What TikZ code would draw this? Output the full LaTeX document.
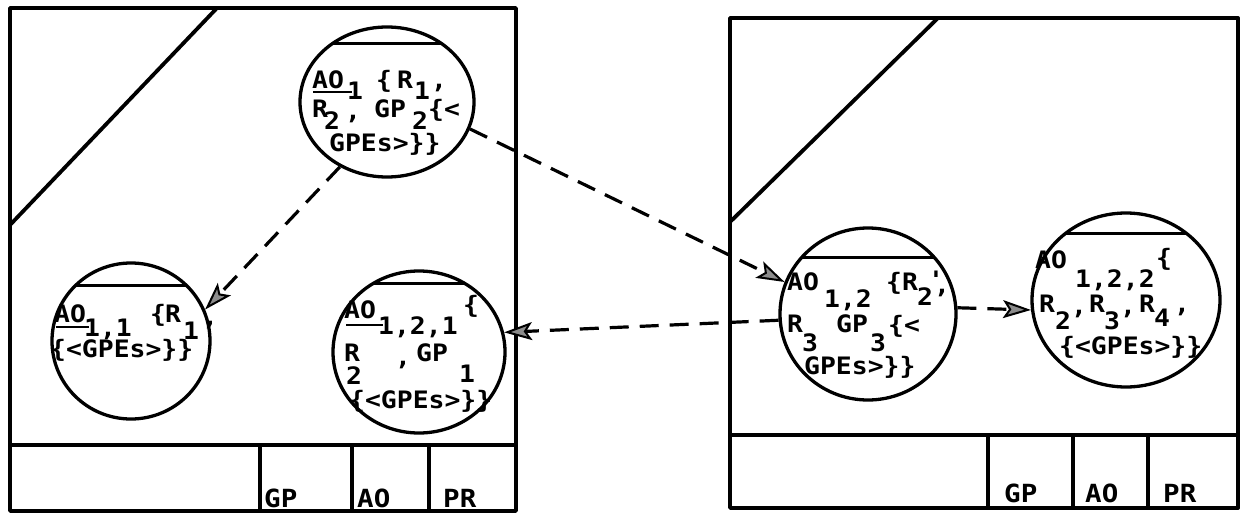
\documentclass[tikz,border=0pt]{standalone}
\usepackage{fontspec}
\newfontfamily\monof[FakeStretch=1.1]{DejaVu Sans Mono}
\usetikzlibrary{shapes.geometric,arrows.meta}
\tikzset{
 frame/.style={line width=3.8pt, line cap=round, line join=round},
 bub/.style={draw, ellipse, line width=3.3pt, inner sep=0pt},
 chordline/.style={line width=3pt},
 tx/.style={font=\monof\bfseries\fontsize{24pt}{26pt}\selectfont, inner sep=0pt, anchor=base west},
 lab/.style={font=\monof\bfseries\fontsize{25pt}{27pt}\selectfont, inner sep=0pt, anchor=base west},
 link/.style={line width=3.2pt, dash pattern=on 19pt off 11pt,
   -{Stealth[length=28pt,width=18pt,inset=6pt,fill=black!45,line width=2pt]}},
}
\newcommand\mybubble[6]{%
  \node[bub, minimum width={2*#4pt}, minimum height={2*#5pt}] (#1) at (#2,#3) {};
  \begin{scope}\clip (#2,#3) ellipse [x radius=#4, y radius=#5];
  \draw[chordline] ({#2-#4},#6) -- ({#2+#4},#6);\end{scope}}
\newcommand\frag[4]{\node[tx] (#1) at (#2,#3) {#4};}
\begin{document}
\begin{tikzpicture}[x=1pt,y=-1pt]
\useasboundingbox (0,0) rectangle (1250,514);
% left box
\draw[frame] (10,8) rectangle (516,511);
\draw[frame] (10,445) -- (516,445);
\draw[frame] (260,445) -- (260,511);
\draw[frame] (352,445) -- (352,511);
\draw[frame] (429,445) -- (429,511);
\draw[frame] (217,8) -- (10,225);
\node[lab] (lgp) at (264,507) {GP};
\node[lab] (lao) at (357,507) {AO};
\node[lab] (lpr) at (443,507) {PR};
% right box
\draw[frame] (730,18) rectangle (1238,508);
\draw[frame] (730,435) -- (1238,435);
\draw[frame] (988,435) -- (988,508);
\draw[frame] (1073,435) -- (1073,508);
\draw[frame] (1148,435) -- (1148,508);
\draw[frame] (938,18) -- (730,222);
\node[lab] (rgp) at (1004,502) {GP};
\node[lab] (rao) at (1085,502) {AO};
\node[lab] (rpr) at (1163,502) {PR};
% bubbles
\mybubble{c1}{387}{102}{87}{75}{43}
\mybubble{c2}{131}{341}{79}{78}{285}
\mybubble{c3}{419}{352}{86}{81}{283}
\mybubble{c4}{868}{314}{88}{86}{257}
\mybubble{c5}{1126}{300}{94}{87}{233}
% c1 text
\frag{c1a}{312}{88}{AO}
\draw[line width=2.4pt] (313,92) -- (352,92);
\frag{c1b}{347}{99}{1}
\frag{c1c}{376}{88}{\{}
\frag{c1d}{397}{88}{R}
\frag{c1e}{414}{99}{1}
\frag{c1f}{431}{88}{,}
\frag{c1g}{312}{117}{R}
\frag{c1h}{324}{129}{2}
\frag{c1i}{345}{119}{,}
\frag{c1j}{374}{117}{GP}
\frag{c1k}{412}{129}{2}
\frag{c1l}{428}{117}{\{<}
\frag{c1m}{329}{151}{GPEs>\}\}}
% c2 text
\frag{c2a}{54}{322}{AO}
\draw[line width=2.4pt] (56,327) -- (89,327);
\frag{c2b}{84}{336}{1,1}
\frag{c2c}{150}{322}{\{}
\frag{c2d}{165}{322}{R}
\frag{c2e}{183}{339}{1}
\frag{c2f}{202}{325}{,}
\frag{c2g}{50}{357}{\{<GPEs>\}\}}
% c3 text
\frag{c3a}{344}{318}{AO}
\draw[line width=2.4pt] (346,325) -- (383,325);
\frag{c3b}{378}{334}{1,2,1}
\frag{c3c}{463}{313}{\{}
\frag{c3d}{344}{361}{R}
\frag{c3e}{346}{384}{2}
\frag{c3f}{395}{365}{,}
\frag{c3g}{416}{361}{GP}
\frag{c3h}{459}{382}{1}
\frag{c3i}{349}{408}{\{<GPEs>\}\}}
% c4 text
\frag{c4a}{787}{290}{AO}
\frag{c4b}{824}{307}{1,2}
\frag{c4c}{886}{290}{\{R}
\frag{c4d}{917}{305}{2}
\frag{c4e}{928}{288}{\rlap{\hspace{6pt}\raisebox{-5pt}{,}}'}
\frag{c4g}{787}{332}{R}
\frag{c4h}{802}{351}{3}
\frag{c4i}{836}{332}{GP}
\frag{c4j}{870}{351}{3}
\frag{c4k}{888}{333}{\{<}
\frag{c4l}{804}{374}{GPEs>\}\}}
% c5 text
\frag{c5a}{1035}{268}{AO}
\frag{c5b}{1075}{287}{1,2,2}
\frag{c5c}{1156}{266}{\{}
\frag{c5d}{1039}{312}{R}
\frag{c5e}{1055}{329}{2}
\frag{c5f}{1071}{314}{,}
\frag{c5g}{1089}{312}{R}
\frag{c5h}{1104}{329}{3}
\frag{c5i}{1120}{314}{,}
\frag{c5j}{1139}{312}{R}
\frag{c5k}{1154}{326}{4}
\frag{c5l}{1174}{312}{,}
\frag{c5m}{1059}{354}{\{<GPEs>\}\}}
% links
\draw[link] (c1.234) -- (c2.23);
\draw[link] (c1.342) -- (c4.159);
\draw[link] (c4.184) -- (c3.13);
\draw[link] (c4.4) -- (c5.186);
\end{tikzpicture}
\end{document}
